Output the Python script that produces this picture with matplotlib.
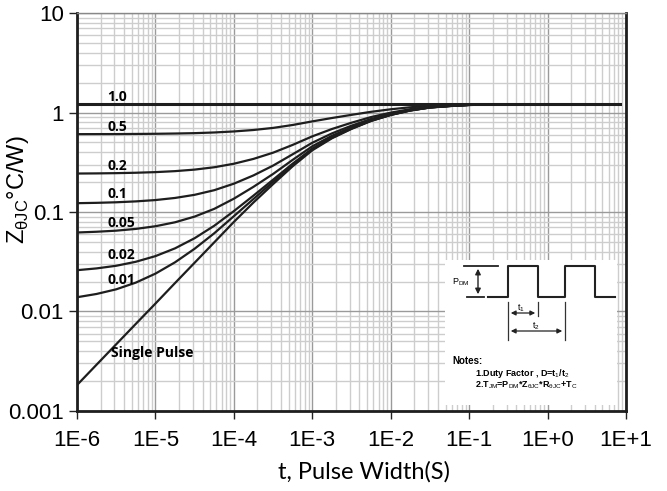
import numpy as np
import matplotlib.pyplot as plt
from matplotlib.ticker import FixedLocator, LogLocator, NullFormatter

plt.rcParams['font.family'] = ['Liberation Sans', 'DejaVu Sans']
plt.rcParams['mathtext.fontset'] = 'custom'
plt.rcParams['mathtext.rm'] = 'Liberation Sans'

# pulse width, log10 seconds
log_t = [-6, -5.75, -5.5, -5.25, -5, -4.75, -4.5, -4.25, -4, -3.75, -3.5, -3.25,
         -3, -2.75, -2.5, -2.25, -2, -1.75, -1.5, -1.25, -1, -0.5, 0, 0.5, 0.93]

# transient thermal impedance (C/W)
z_single = [0.00182, 0.00292, 0.00468, 0.0075, 0.0120, 0.0193, 0.0309, 0.0495, 0.0794,
            0.1245, 0.1905, 0.288, 0.417, 0.550, 0.684, 0.822, 0.944, 1.047, 1.122,
            1.161, 1.191, 1.208, 1.21, 1.21, 1.21]
z_d001 = [0.0139, 0.0150, 0.0167, 0.0195, 0.0240, 0.0312, 0.0427, 0.0611, 0.0907,
          0.135, 0.201, 0.297, 0.425, 0.557, 0.689, 0.826, 0.947, 1.048, 1.123,
          1.161, 1.191, 1.208, 1.21, 1.21, 1.21]
z_d002 = [0.0260, 0.0271, 0.0288, 0.0316, 0.0360, 0.0431, 0.0545, 0.0727, 0.102,
          0.146, 0.211, 0.306, 0.433, 0.563, 0.695, 0.830, 0.949, 1.050, 1.124,
          1.162, 1.191, 1.208, 1.21, 1.21, 1.21]
z_d005 = [0.0622, 0.0633, 0.0649, 0.0676, 0.0719, 0.0788, 0.0899, 0.1075, 0.136,
          0.179, 0.241, 0.334, 0.457, 0.583, 0.710, 0.841, 0.957, 1.055, 1.126,
          1.164, 1.192, 1.208, 1.21, 1.21, 1.21]
z_d01 = [0.1226, 0.1236, 0.1252, 0.1278, 0.1318, 0.1384, 0.1488, 0.1656, 0.1925,
         0.2331, 0.2925, 0.3802, 0.4963, 0.616, 0.737, 0.861, 0.971, 1.063, 1.131,
         1.166, 1.193, 1.208, 1.21, 1.21, 1.21]
z_d02 = [0.2435, 0.2443, 0.2457, 0.2480, 0.2516, 0.2574, 0.2667, 0.2816, 0.3055,
         0.3416, 0.3944, 0.4724, 0.5756, 0.682, 0.789, 0.900, 0.997, 1.080, 1.140,
         1.171, 1.195, 1.208, 1.21, 1.21, 1.21]
z_d05 = [0.606, 0.6065, 0.607, 0.6088, 0.611, 0.6147, 0.620, 0.6298, 0.645,
         0.667, 0.700, 0.749, 0.814, 0.880, 0.947, 1.016, 1.077, 1.129, 1.166,
         1.186, 1.200, 1.209, 1.21, 1.21, 1.21]
z_d1 = [1.21] * len(log_t)

curves = [z_d1, z_d05, z_d02, z_d01, z_d005, z_d002, z_d001, z_single]
curve_labels = ['1.0', '0.5', '0.2', '0.1', '0.05', '0.02', '0.01']
label_y = [1.43, 0.71, 0.29, 0.152, 0.078, 0.037, 0.0207]

x_ticks = [1e-6, 1e-5, 1e-4, 1e-3, 1e-2, 1e-1, 1e0, 1e1]
x_ticklabels = ['1E-6', '1E-5', '1E-4', '1E-3', '1E-2', '1E-1', '1E+0', '1E+1']
y_ticks = [0.001, 0.01, 0.1, 1, 10]
y_ticklabels = ['0.001', '0.01', '0.1', '1', '10']

t = 10 ** np.array(log_t)

fig = plt.figure(figsize=(6.67, 4.91), dpi=100)
ax = fig.add_axes([0.1154, 0.163, 0.8231, 0.8105])

for i, z in enumerate(curves):
    ax.plot(t, z, color='#1e1e1e', linewidth=2.2 if i == 0 else 1.6, zorder=3)

ax.set_xscale('log')
ax.set_yscale('log')
ax.set_xlim(1e-6, 1e1)
ax.set_ylim(0.001, 10)

ax.xaxis.set_major_locator(FixedLocator(x_ticks))
ax.set_xticklabels(x_ticklabels)
ax.yaxis.set_major_locator(FixedLocator(y_ticks))
ax.set_yticklabels(y_ticklabels)
ax.xaxis.set_minor_locator(LogLocator(base=10, subs=np.arange(2, 10), numticks=20))
ax.yaxis.set_minor_locator(LogLocator(base=10, subs=np.arange(2, 10), numticks=20))
ax.xaxis.set_minor_formatter(NullFormatter())
ax.yaxis.set_minor_formatter(NullFormatter())

ax.grid(True, which='major', color='#9a9a9a', linewidth=1.0)
ax.grid(True, which='minor', color='#cdcdcd', linewidth=1.0)
ax.set_axisbelow(True)

ax.tick_params(which='major', direction='out', length=6, width=1, labelsize=16,
               colors='#222222', labelcolor='black')
ax.tick_params(which='minor', length=0)
ax.tick_params(axis='x', pad=8)

for side in ['left', 'bottom', 'right']:
    ax.spines[side].set_linewidth(2)
    ax.spines[side].set_color('#1e1e1e')
ax.spines['top'].set_linewidth(1)
ax.spines['top'].set_color('#888888')

ax.set_xlabel('t, Pulse Width(S)', fontsize=17, family=['Lato', 'DejaVu Sans'])
ax.xaxis.set_label_coords(0.523, -0.125)
ax.set_ylabel(r'Z$_{\mathrm{\theta JC}}$°C/W)', fontsize=17)
ax.yaxis.set_label_coords(-0.083, 0.555)

for lab, y in zip(curve_labels, label_y):
    ax.text(2.45e-6, y, lab, fontsize=10, fontweight='bold', family=['Open Sans', 'DejaVu Sans'],
            ha='left', va='center', zorder=4)
ax.text(2.75e-6, 0.00383, 'Single Pulse', fontsize=10, fontweight='bold',
        family=['Open Sans', 'DejaVu Sans'], ha='left', va='center', zorder=4)

# inset with pulse diagram and notes (pixel coordinates of the figure)
ins = fig.add_axes([445 / 667, 1 - 405 / 491, 172 / 667, 145 / 491])
ins.set_xlim(445, 617)
ins.set_ylim(405, 260)
ins.axis('off')
ins.add_patch(plt.Rectangle((445, 260), 172, 145, color='white', zorder=0))
ins.set_facecolor('white')
ins.patch.set_visible(True)

wave_x = [488, 508, 508, 538, 538, 565, 565, 595, 595, 615]
wave_y = [297, 297, 266, 266, 297, 297, 266, 266, 297, 297]
ins.plot(wave_x, wave_y, color='#222222', lw=1.5)
ins.plot([464, 498], [266, 266], color='#222222', lw=1.3)
ins.plot([467, 484], [297, 297], color='#222222', lw=1.3)
ins.annotate('', xy=(478, 266), xytext=(478, 297),
             arrowprops=dict(arrowstyle='<|-|>', color='#222222', lw=1.0, mutation_scale=8))
ins.plot([508, 508], [302, 340], color='#333333', lw=0.9)
ins.plot([538, 538], [302, 316], color='#333333', lw=0.9)
ins.plot([565, 565], [302, 340], color='#333333', lw=0.9)
ins.annotate('', xy=(508, 313), xytext=(538, 313),
             arrowprops=dict(arrowstyle='<|-|>', color='#222222', lw=0.9, mutation_scale=7))
ins.annotate('', xy=(508, 331), xytext=(565, 331),
             arrowprops=dict(arrowstyle='<|-|>', color='#222222', lw=0.9, mutation_scale=7))

small = ['Liberation Sans Narrow', 'Liberation Sans', 'DejaVu Sans']
ins.text(452, 282, r'P$_{\mathrm{DM}}$', fontsize=6.5, family=small, va='center')
ins.text(521, 308, r't$_1$', fontsize=6.5, family=small, ha='center', va='center')
ins.text(536, 326, r't$_2$', fontsize=6.5, family=small, ha='center', va='center')
ins.text(452, 361, 'Notes:', fontsize=7, family=small, fontweight='bold', va='center')
ins.text(475, 373, r'1.Duty Factor , D=t$_1$/t$_2$', fontsize=6.5, family=small,
         fontweight='bold', va='center')
ins.text(475, 385, r'2.T$_{\mathrm{JM}}$=P$_{\mathrm{DM}}$*Z$_{\mathrm{\theta JC}}$*R$_{\mathrm{\theta JC}}$+T$_{\mathrm{C}}$',
         fontsize=6.5, family=small, fontweight='bold', va='center')

fig.savefig('out.png', dpi=100)
